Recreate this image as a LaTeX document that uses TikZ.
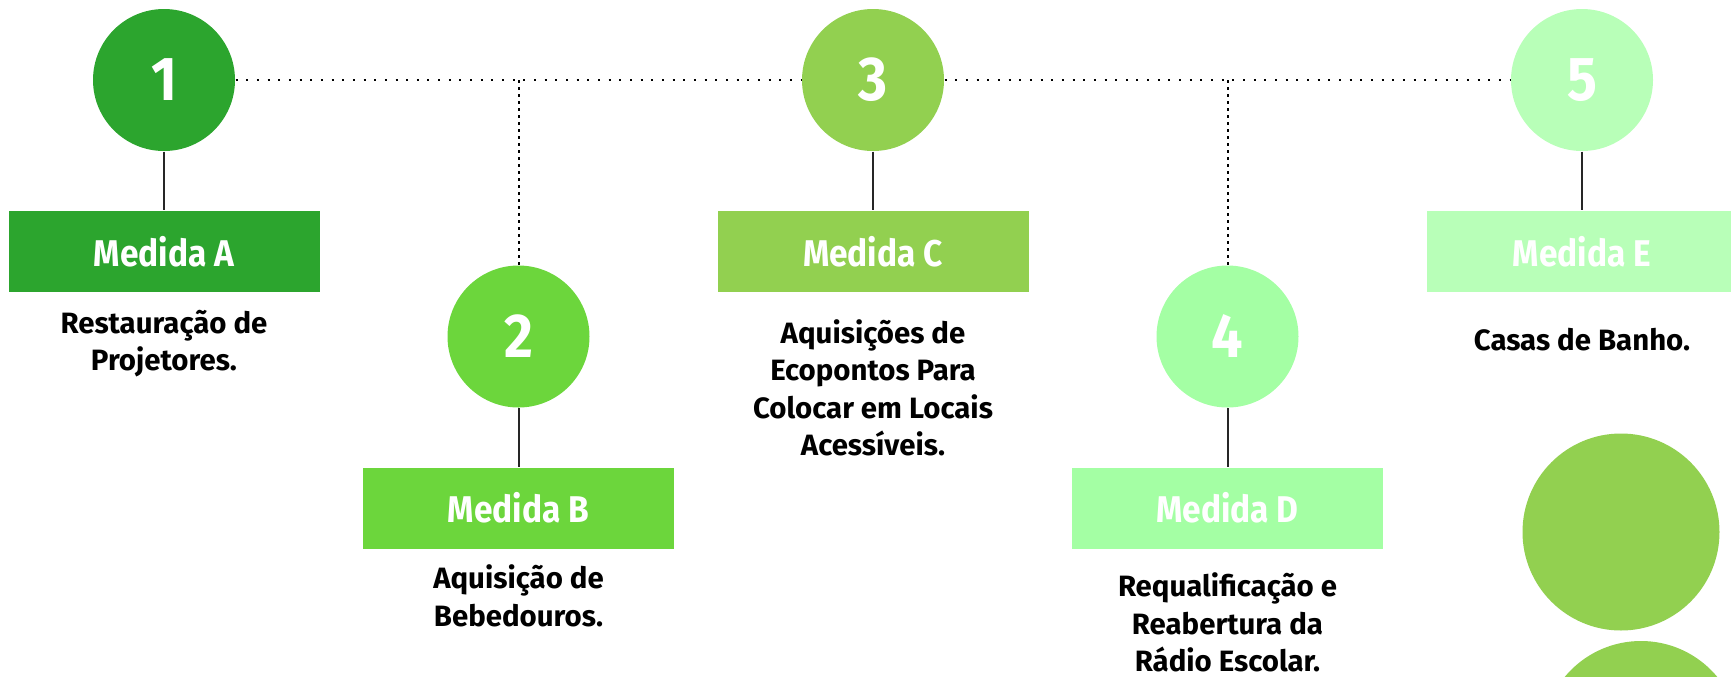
\documentclass[tikz,border=0pt]{standalone}
\usepackage{fontspec}
\setmainfont{Fira Sans}[FakeStretch=0.9]
\newfontfamily\descfont{Fira Sans}
\usetikzlibrary{positioning}
\definecolor{greenA}{HTML}{2CA52E}
\definecolor{greenB}{HTML}{6CD63C}
\definecolor{greenC}{HTML}{92D050}
\definecolor{greenD}{HTML}{A4FFA4}
\definecolor{greenE}{HTML}{B8FFB8}

\begin{document}
\begin{tikzpicture}[-,x=1pt,y=1pt,node distance=85.75pt,semithick]
\tikzstyle{num}=[circle,minimum size=71pt,inner sep=0pt,text=white,font=\fontsize{31}{31}\selectfont\bfseries]
\tikzstyle{medida}=[rectangle,minimum width=155.5pt,minimum height=40.5pt,inner sep=0pt,text=white,font=\fontsize{18.6}{20}\selectfont\bfseries]
\tikzstyle{desc}=[align=center,inner sep=0pt,text=black,font=\descfont\fontsize{14.7}{18.75}\selectfont\bfseries]
\tikzstyle{link}=[line width=1pt,draw=black!85]
\tikzstyle{dotH}=[line width=1pt,dash pattern=on 1pt off 4.33pt]
\tikzstyle{dotV}=[line width=1pt,dash pattern=on 1.3pt off 2.2pt]
\useasboundingbox (0,0) rectangle (865.5,-338);

\node[num,fill=greenA] (n1) at (82,-40) {1};
\node[num,fill=greenB] (n2) at (259.25,-168.25) {2};
\node[num,fill=greenC] (n3) at (436.5,-40) {3};
\node[num,fill=greenD] (n4) at (613.75,-168.25) {4};
\node[num,fill=greenE] (n5) at (791,-40) {5};

\node[medida,fill=greenA] (mA) [below of=n1] {Medida A};
\node[medida,fill=greenB] (mB) [below of=n2] {Medida B};
\node[medida,fill=greenC] (mC) [below of=n3] {Medida C};
\node[medida,fill=greenD] (mD) [below of=n4] {Medida D};
\node[medida,fill=greenE] (mE) [below of=n5] {Medida E};

\node[desc] (dA) [below=7pt of mA] {\strut Restauração de\\\strut Projetores.};
\node[desc] (dB) [below=6.5pt of mB] {\strut Aquisição de\\\strut Bebedouros.};
\node[desc] (dC) [below=12pt of mC] {\strut Aquisições de\\\strut Ecopontos Para\\\strut Colocar em Locais\\\strut Acessíveis.};
\node[desc] (dD) [below=10.5pt of mD] {\strut Requalificação e\\\strut Reabertura da\\\strut Rádio Escolar.};
\node[desc] (dE) [below=15.5pt of mE] {\strut Casas de Banho.};

\node[circle,fill=greenC,minimum size=98.5pt] (big1) at (810.5,-266) {};
\node[circle,fill=greenC,minimum size=99pt] (big2) at (820.5,-370) {};

\path[dotH] (n1) edge (n3);
\path[dotH] (n3) edge (n5);

\draw[dotV] (n2.north) -- (n2.north |- n1.center);
\draw[dotV] (n4.north) -- (n4.north |- n1.center);

\path[link] (n1) edge (mA);
\path[link] (n2) edge (mB);
\path[link] (n3) edge (mC);
\path[link] (n4) edge (mD);
\path[link] (n5) edge (mE);

\end{tikzpicture}
\end{document}
